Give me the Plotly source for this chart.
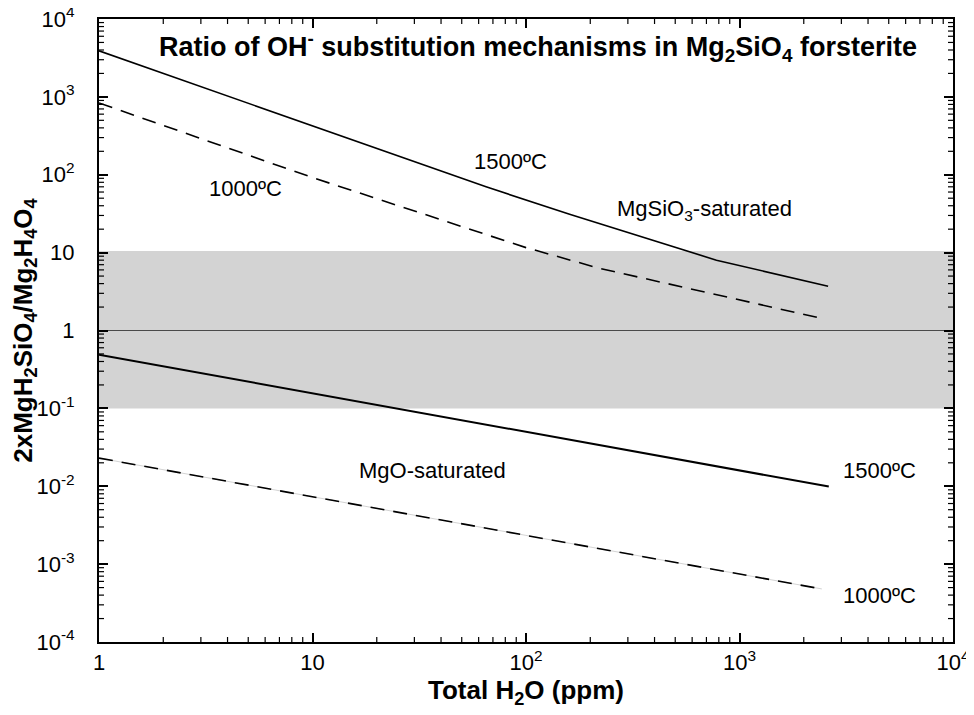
import plotly.graph_objects as go

# ---------------- data ----------------
h2o_si_1500 = [1, 10, 65, 160, 780, 2600]
ratio_si_1500 = [3900, 420, 70, 31, 8.0, 3.7]

h2o_si_1000 = [1, 10, 100, 220, 2400]
ratio_si_1000 = [835, 92, 11.6, 6.3, 1.44]

h2o_mg_1500 = [1, 2620]
ratio_mg_1500 = [0.49, 0.0099]

h2o_mg_1000 = [1, 2430]
ratio_mg_1000 = [0.023, 0.00048]

band_low = 0.1
band_high = 10.5
unity = 1

x_tickvals = [1, 10, 100, 1000, 10000]
x_ticktext = ["1", "10", "10<sup>2</sup>", "10<sup>3</sup>", "10<sup>4</sup>"]
y_tickvals = [1e-4, 1e-3, 1e-2, 1e-1, 1, 10, 100, 1000, 10000]
y_ticktext = ["10<sup>-4</sup>", "10<sup>-3</sup>", "10<sup>-2</sup>", "10<sup>-1</sup>",
              "1", "10", "10<sup>2</sup>", "10<sup>3</sup>", "10<sup>4</sup>"]
minor_multipliers = [2, 3, 4, 5, 6, 7, 8, 9]

x_minor = [m * d for d in x_tickvals[:-1] for m in minor_multipliers]
y_minor = [m * d for d in y_tickvals[:-1] for m in minor_multipliers]

FONT = "Liberation Sans, Arial, Helvetica, sans-serif"

fig = go.Figure()

solid = dict(color="black", width=1.6)
dashed = dict(color="black", width=1.6, dash="14px,9px")

fig.add_trace(go.Scatter(x=h2o_si_1500, y=ratio_si_1500, mode="lines", line=solid,
                         name="MgSiO3-saturated 1500ºC", showlegend=False))
fig.add_trace(go.Scatter(x=h2o_si_1000, y=ratio_si_1000, mode="lines", line=dashed,
                         name="MgSiO3-saturated 1000ºC", showlegend=False))
fig.add_trace(go.Scatter(x=h2o_mg_1500, y=ratio_mg_1500, mode="lines",
                         line=dict(color="black", width=2),
                         name="MgO-saturated 1500ºC", showlegend=False))
fig.add_trace(go.Scatter(x=h2o_mg_1000, y=ratio_mg_1000, mode="lines",
                         line=dict(color="#c8c8c8", width=0.8),
                         hoverinfo="skip", showlegend=False))
fig.add_trace(go.Scatter(x=h2o_mg_1000, y=ratio_mg_1000, mode="lines", line=dashed,
                         name="MgO-saturated 1000ºC", showlegend=False))

# grey band and unity line
fig.add_shape(type="rect", xref="paper", yref="y", x0=0, x1=1,
              y0=band_low, y1=band_high,
              fillcolor="#d3d3d3", line=dict(width=0), layer="below")
fig.add_shape(type="line", xref="paper", yref="y", x0=0, x1=1,
              y0=unity, y1=unity,
              line=dict(color="#4a4a4a", width=1), layer="below")

# minor (2..9) ticks on all four sides, placed through the axes' own scales
PLOT_W, PLOT_H = 854, 623
MINOR_LEN = 5
tick_line = dict(color="black", width=1.2)
for v in x_minor:
    fig.add_shape(type="line", xref="x", yref="paper", x0=v, x1=v,
                  y0=0, y1=MINOR_LEN / PLOT_H, line=tick_line, layer="above")
    fig.add_shape(type="line", xref="x", yref="paper", x0=v, x1=v,
                  y0=1, y1=1 - MINOR_LEN / PLOT_H, line=tick_line, layer="above")
for v in y_minor:
    fig.add_shape(type="line", xref="paper", yref="y", y0=v, y1=v,
                  x0=0, x1=MINOR_LEN / PLOT_W, line=tick_line, layer="above")
    fig.add_shape(type="line", xref="paper", yref="y", y0=v, y1=v,
                  x0=1, x1=1 - MINOR_LEN / PLOT_W, line=tick_line, layer="above")

axis_common = dict(
    type="log",
    showgrid=False,
    zeroline=False,
    showline=True,
    linecolor="black",
    linewidth=2,
    mirror="allticks",
    ticks="inside",
    ticklen=9,
    tickwidth=1.5,
    tickcolor="black",
    tickmode="array",
    automargin=False,
    ticklabeloverflow="allow",
    tickfont=dict(family=FONT, size=22, color="black"),
)

fig.update_layout(
    xaxis=dict(**axis_common, range=[0, 4], tickvals=x_tickvals, ticktext=x_ticktext,
               ticklabelstandoff=0,
               title=dict(text="<b>Total H<sub>2</sub>O (ppm)</b>",
                          font=dict(family=FONT, size=26, color="black"), standoff=0)),
    yaxis=dict(**axis_common, range=[-4, 4], tickvals=y_tickvals, ticktext=y_ticktext,
               ticklabelstandoff=18,
               title=dict(text="<b>2xMgH<sub>2</sub>SiO<sub>4</sub>/Mg<sub>2</sub>H<sub>4</sub>O<sub>4</sub></b>",
                          font=dict(family=FONT, size=26, color="black"), standoff=4)),
)

labels = [
    ("<b>Ratio of OH<sup>-</sup> substitution mechanisms in Mg<sub>2</sub>SiO<sub>4</sub> forsterite</b>",
     0.514, 0.955, 27),
    ("1500ºC", 0.4824, 0.7705, 22),
    ("1000ºC", 0.171, 0.7287, 22),
    ("MgSiO<sub>3</sub>-saturated", 0.7096, 0.6934, 22),
    ("MgO-saturated", 0.391, 0.276, 22),
    ("1500ºC", 0.9145, 0.2745, 22),
    ("1000ºC", 0.9145, 0.0754, 22),
]
for text, xp, yp, size in labels:
    fig.add_annotation(text=text, x=xp, y=yp, xref="paper", yref="paper",
                       showarrow=False, xanchor="center", yanchor="middle",
                       font=dict(family=FONT, size=size, color="black"))

# the page body adds an 8 px offset, so the figure is 8 px smaller and the
# margins are reduced accordingly
fig.update_layout(
    width=966, height=707,
    margin=dict(l=91, r=21, t=11, b=73),
    paper_bgcolor="white",
    plot_bgcolor="white",
    font=dict(family=FONT, color="black"),
    showlegend=False,
)

fig.write_html("out.html")
